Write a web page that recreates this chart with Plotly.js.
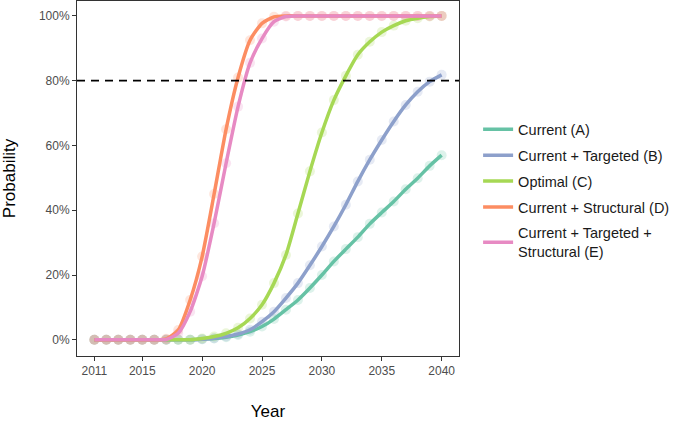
<!DOCTYPE html>
<html>
<head>
<meta charset="utf-8">
<script src="https://cdn.plot.ly/plotly-3.0.1.min.js"></script>
<style>
  body { margin: 0; background: #ffffff; }
  #chart { width: 678px; height: 424px; }
</style>
</head>
<body>
<div id="chart"></div>
<script>
//---------------------------------------Datos - start-----------------------------------------------
var years = [2011, 2012, 2013, 2014, 2015, 2016, 2017, 2018, 2019, 2020,
             2021, 2022, 2023, 2024, 2025, 2026, 2027, 2028, 2029, 2030,
             2031, 2032, 2033, 2034, 2035, 2036, 2037, 2038, 2039, 2040];

var current_a = [0, 0, 0, 0, 0, 0, 0, 0, 0, 0.002,
                 0.004, 0.008, 0.015, 0.025, 0.041, 0.064, 0.093, 0.123, 0.16, 0.2,
                 0.242, 0.28, 0.317, 0.358, 0.393, 0.427, 0.465, 0.499, 0.537, 0.57];

var targeted_b = [0, 0, 0, 0, 0, 0, 0, 0, 0, 0.002,
                  0.005, 0.01, 0.018, 0.031, 0.056, 0.087, 0.129, 0.175, 0.23, 0.288,
                  0.35, 0.417, 0.489, 0.556, 0.617, 0.674, 0.725, 0.766, 0.797, 0.818];

var optimal_c = [0, 0, 0, 0, 0, 0, 0, 0, 0, 0.004,
                 0.01, 0.02, 0.037, 0.066, 0.108, 0.175, 0.262, 0.39, 0.52, 0.64,
                 0.74, 0.815, 0.88, 0.92, 0.95, 0.97, 0.985, 0.993, 0.998, 1.0];

var structural_d = [0, 0, 0, 0, 0, 0, 0.003, 0.03, 0.123, 0.257,
                    0.45, 0.65, 0.81, 0.925, 0.977, 0.997, 1, 1, 1, 1,
                    1, 1, 1, 1, 1, 1, 1, 1, 1, 1];

var targeted_structural_e = [0, 0, 0, 0, 0, 0, 0.001, 0.02, 0.087, 0.196,
                             0.36, 0.545, 0.72, 0.855, 0.93, 0.982, 0.998, 1, 1, 1,
                             1, 1, 1, 1, 1, 1, 1, 1, 1, 1];

var series_names = ['Current (A)', 'Current + Targeted (B)', 'Optimal (C)',
                    'Current + Structural (D)', 'Current + Targeted +<br>Structural (E)'];
var series_values = [current_a, targeted_b, optimal_c, structural_d, targeted_structural_e];
var series_colors = ['#66C2A5', '#8DA0CB', '#A6D854', '#FC8D62', '#E78AC3'];

var year_ticks = [2011, 2015, 2020, 2025, 2030, 2035, 2040];
var prob_ticks = [0, 0.2, 0.4, 0.6, 0.8, 1.0];
var threshold = 0.8;
//---------------------------------------Datos - end-----------------------------------------------

var chart_font = {
  family: "'Liberation Sans', Arial, sans-serif",
  size: 12,
  color: '#4D4D4D'
};

var data_prob = [];

// puntos transparentes
for (var i = 0; i < series_values.length; i++) {
  data_prob.push({
    x: years,
    y: series_values[i],
    type: 'scatter',
    mode: 'markers',
    showlegend: false,
    hoverinfo: 'skip',
    legendgroup: 'g' + i,
    marker: { size: 10, color: series_colors[i], opacity: 0.22 }
  });
}

// lineas suavizadas
for (var j = 0; j < series_values.length; j++) {
  data_prob.push({
    x: years,
    y: series_values[j],
    type: 'scatter',
    mode: 'lines',
    name: series_names[j],
    legendgroup: 'g' + j,
    line: { width: 3.5, color: series_colors[j], shape: 'spline', smoothing: 0.6 }
  });
}

var layout_prob = {
  width: 678,
  height: 424,
  margin: { t: 1, r: 219, l: 77, b: 68 },
  paper_bgcolor: '#ffffff',
  plot_bgcolor: '#ffffff',
  font: chart_font,
  xaxis: {
    range: [2009.55, 2041.45],
    tickvals: year_ticks,
    ticktext: year_ticks.map(String),
    ticks: 'outside',
    ticklen: 4,
    tickcolor: '#333333',
    showgrid: false,
    zeroline: false,
    showline: true,
    linecolor: '#333333',
    linewidth: 1,
    mirror: true,
    tickfont: chart_font,
    title: {
      text: 'Year',
      standoff: 27,
      font: { family: "'Liberation Sans', Arial, sans-serif", size: 17, color: '#000000' }
    }
  },
  yaxis: {
    range: [-0.05, 1.046],
    tickvals: prob_ticks,
    tickformat: '.0%',
    ticks: 'outside',
    ticklen: 4,
    tickcolor: '#333333',
    showgrid: false,
    zeroline: false,
    showline: true,
    linecolor: '#333333',
    linewidth: 1,
    mirror: true,
    tickfont: chart_font,
    title: {
      text: 'Probability',
      standoff: 18,
      font: { family: "'Liberation Sans', Arial, sans-serif", size: 17, color: '#000000' }
    }
  },
  shapes: [{
    type: 'line',
    xref: 'paper',
    yref: 'y',
    x0: 0,
    x1: 1,
    y0: threshold,
    y1: threshold,
    line: { color: '#000000', width: 1.8, dash: '8px,6px' }
  }],
  legend: {
    x: 1.05,
    y: 0.465,
    xanchor: 'left',
    yanchor: 'middle',
    traceorder: 'grouped',
    tracegroupgap: 4,
    bgcolor: 'rgba(0,0,0,0)',
    font: { family: "'Liberation Sans', Arial, sans-serif", size: 14.5, color: '#1A1A1A' }
  }
};

Plotly.newPlot('chart', data_prob, layout_prob, { displayModeBar: false, displaylogo: false });
</script>
</body>
</html>
